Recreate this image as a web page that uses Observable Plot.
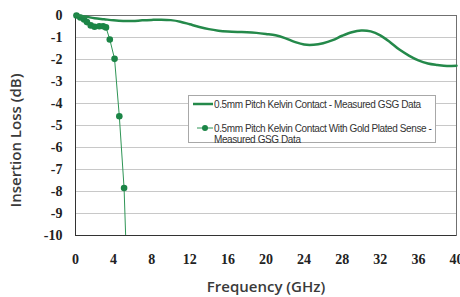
<!DOCTYPE html>
<html><head><meta charset="utf-8">
<script src="https://cdn.jsdelivr.net/npm/d3@7"></script>
<script src="https://cdn.jsdelivr.net/npm/@observablehq/plot@0.6"></script>
<style>
body{margin:0;background:#fff;}
#wrap{position:relative;width:460px;height:297px;}
#chart svg g[aria-label="x-axis label"] text{font-family:"Open Sans",Lato,sans-serif;font-weight:600;font-size:15px;fill:#3a3a3a;}
#legend{position:absolute;left:188px;top:95px;width:248px;height:48px;border:1px solid #a8a8a8;background:#fff;font-family:"Liberation Sans",Arial,sans-serif;font-size:10px;letter-spacing:-0.4px;color:#333;box-sizing:border-box;}
#legend .row{position:absolute;left:3px;}
#legend svg{position:absolute;left:0;top:0;}
#legend .t{position:absolute;left:22px;white-space:nowrap;line-height:11px;}
</style></head>
<body><div id="wrap"><div id="chart"></div>
<div id="legend">
 <div class="row" style="top:3px"><svg width="22" height="10"><line x1="1" x2="21" y1="5" y2="5" stroke="#24894a" stroke-width="2.5"/></svg><div class="t" style="top:0px">0.5mm Pitch Kelvin Contact - Measured GSG Data</div></div>
 <div class="row" style="top:27px"><svg width="22" height="10"><line x1="5" x2="21" y1="5" y2="5" stroke="#2f9556" stroke-width="1"/><circle cx="13" cy="5" r="3" fill="#1b8546"/></svg><div class="t" style="top:0px">0.5mm Pitch Kelvin Contact With Gold Plated Sense -<br>Measured GSG Data</div></div>
</div></div>
<script>
// Series 1: 0.5mm Pitch Kelvin Contact - Measured GSG Data
const freq1 = [0,1,2,3,4,5,6,7,8,9,10,11,12,13,14,15,16,17,18,19,20,21,22,23,24,25,26,27,28,29,30,31,32,33,34,35,36,37,38,39,40];
const loss1 = [0,-0.05,-0.12,-0.17,-0.22,-0.25,-0.25,-0.22,-0.2,-0.19,-0.21,-0.28,-0.4,-0.52,-0.62,-0.69,-0.73,-0.75,-0.76,-0.79,-0.84,-0.9,-1.03,-1.2,-1.32,-1.33,-1.26,-1.12,-0.92,-0.76,-0.68,-0.72,-0.9,-1.2,-1.55,-1.82,-2.04,-2.18,-2.25,-2.3,-2.28];
// Series 2: With Gold Plated Sense (last point = line reaching axis floor, no marker)
const freq2 = [0.1,0.5,0.9,1.2,1.6,2.0,2.5,2.9,3.2,3.6,4.1,4.6,5.1,5.28];
const loss2 = [0,-0.09,-0.18,-0.3,-0.45,-0.51,-0.49,-0.49,-0.54,-1.09,-1.97,-4.58,-7.84,-10.2];
const markers2 = [1,1,1,1,1,1,1,1,1,1,1,1,1,0];
const xTicks = [0,4,8,12,16,20,24,28,32,36,40];
const yTicks = [0,-1,-2,-3,-4,-5,-6,-7,-8,-9,-10];
const yTitle = "Insertion Loss (dB)";
const xTitle = "Frequency (GHz)";

const s1 = freq1.map((f,i)=>({f, l: loss1[i]}));
const s2 = freq2.map((f,i)=>({f, l: loss2[i], m: markers2[i]}));

const chart = Plot.plot({
  width: 460, height: 297,
  marginLeft: 75, marginRight: 4, marginTop: 15, marginBottom: 62,
  style: {fontFamily: "'Liberation Serif', serif", fontSize: "14px", fontWeight: "bold", color: "#222", background: "#fff"},
  x: {domain: [0,40], ticks: xTicks, tickSize: 0, tickPadding: 19, tickFormat: d => String(d), label: xTitle, labelAnchor: "center", labelArrow: "none", labelOffset: 56},
  y: {domain: [-10,0], ticks: yTicks, tickSize: 0, tickPadding: 13, tickFormat: d => String(d), label: null},
  marks: [
    Plot.gridY(yTicks, {stroke: "#c8c8c8", strokeOpacity: 1}),
    Plot.frame({stroke: "#707070"}),
    Plot.ruleX([0], {stroke: "#333"}),
    Plot.ruleY([-10], {stroke: "#333"}),
    Plot.line(s2, {x: "f", y: "l", stroke: "#2f9556", strokeWidth: 1, clip: true}),
    Plot.dot(s2.filter(d => d.m), {x: "f", y: "l", r: 3.3, fill: "#1b8546", stroke: "none"}),
    Plot.line(s1, {x: "f", y: "l", stroke: "#24894a", strokeWidth: 2.5, curve: "catmull-rom"}),
    Plot.text([yTitle], {frameAnchor: "left", textAnchor: "middle", dx: -59, dy: 15, rotate: -90, fontFamily: "'Open Sans', Lato, sans-serif", fontWeight: 600, fontSize: 15, letterSpacing: "0.6px", fill: "#3a3a3a"})
  ]
});
document.getElementById("chart").append(chart);
</script>
</body></html>
